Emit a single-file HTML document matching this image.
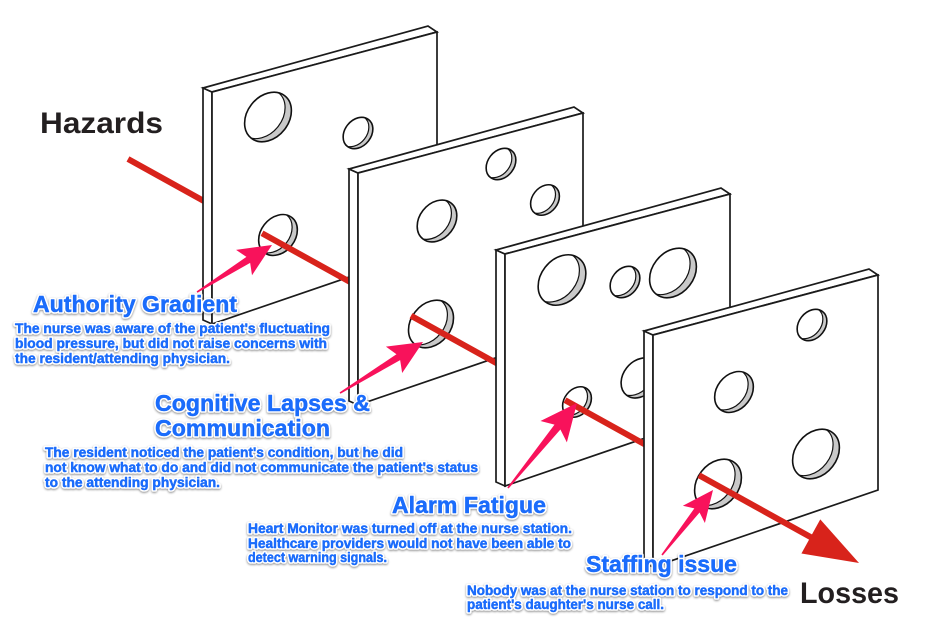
<!DOCTYPE html>
<html>
<head>
<meta charset="utf-8">
<style>
  html,body{margin:0;padding:0;background:#fff;}
  body{width:940px;height:638px;overflow:hidden;}
  svg{display:block;}
  .blk{font-family:"Liberation Sans",Arial,sans-serif;font-weight:bold;fill:#231f20;}
  .sl path{fill:#fff;stroke:#1b1b1b;stroke-width:1.7;stroke-linejoin:miter;}
  .red{stroke:#d8231b;stroke-width:6;fill:none;stroke-linecap:butt;}
  .pink{fill:#f8125b;}
  .halo{font-family:"Liberation Sans",Arial,sans-serif;font-weight:bold;fill:#1b6cfb;stroke:#fff;stroke-width:3.6px;paint-order:stroke;stroke-linejoin:round;filter:drop-shadow(0.5px 1.5px 1px rgba(0,0,0,0.45));}
  .ink{font-family:"Liberation Sans",Arial,sans-serif;font-weight:bold;fill:#1b6cfb;stroke:#1b6cfb;stroke-width:0.45px;stroke-linejoin:round;}
</style>
</head>
<body>
<svg width="940" height="638" viewBox="0 0 940 638" xmlns="http://www.w3.org/2000/svg">
  <defs>
    <clipPath id="hc"><circle cx="0" cy="0" r="1"/></clipPath>
    <g id="hole">
      <circle cx="0" cy="0" r="1" fill="#c9c9c9"/>
      <circle cx="-0.27" cy="-0.2" r="1" fill="#fff" stroke="#111" stroke-width="1.2" vector-effect="non-scaling-stroke" clip-path="url(#hc)"/>
      <circle cx="0" cy="0" r="1" fill="none" stroke="#111" stroke-width="1.6" vector-effect="non-scaling-stroke"/>
    </g>
    <g id="labels">
      <text x="33" y="312" font-size="23" textLength="204" lengthAdjust="spacingAndGlyphs">Authority Gradient</text>
      <text x="15" y="333" font-size="13.5" textLength="315" lengthAdjust="spacingAndGlyphs">The nurse was aware of the patient's fluctuating</text>
      <text x="15" y="348" font-size="13.5" textLength="312" lengthAdjust="spacingAndGlyphs">blood pressure, but did not raise concerns with</text>
      <text x="15" y="363" font-size="13.5" textLength="215" lengthAdjust="spacingAndGlyphs">the resident/attending physician.</text>

      <text x="155" y="411" font-size="23" textLength="215" lengthAdjust="spacingAndGlyphs">Cognitive Lapses &amp;</text>
      <text x="155" y="436" font-size="23" textLength="175" lengthAdjust="spacingAndGlyphs">Communication</text>
      <text x="45" y="457" font-size="13.5" textLength="358" lengthAdjust="spacingAndGlyphs">The resident noticed the patient's condition, but he did</text>
      <text x="45" y="472" font-size="13.5" textLength="433" lengthAdjust="spacingAndGlyphs">not know what to do and did not communicate the patient's status</text>
      <text x="45" y="487" font-size="13.5" textLength="175" lengthAdjust="spacingAndGlyphs">to the attending physician.</text>

      <text x="392" y="513" font-size="23" textLength="154" lengthAdjust="spacingAndGlyphs">Alarm Fatigue</text>
      <text x="248" y="533" font-size="13.5" textLength="324" lengthAdjust="spacingAndGlyphs">Heart Monitor was turned off at the nurse station.</text>
      <text x="248" y="548" font-size="13.5" textLength="323" lengthAdjust="spacingAndGlyphs">Healthcare providers would not have been able to</text>
      <text x="248" y="562" font-size="13.5" textLength="139" lengthAdjust="spacingAndGlyphs">detect warning signals.</text>

      <text x="586" y="572" font-size="23" textLength="151" lengthAdjust="spacingAndGlyphs">Staffing issue</text>
      <text x="467" y="595" font-size="13.5" textLength="321" lengthAdjust="spacingAndGlyphs">Nobody was at the nurse station to respond to the</text>
      <text x="467" y="609" font-size="13.5" textLength="197" lengthAdjust="spacingAndGlyphs">patient's daughter's nurse call.</text>
    </g>
  </defs>
  <rect width="940" height="638" fill="#fff"/>

  <!-- red segment 0 -->
  <line class="red" x1="128" y1="159" x2="216" y2="207.8"/>

  <!-- Slice 1 -->
  <g class="sl" transform="translate(212,92)">
    <path d="M-9,-4 L0,0 L0,232 L-9,228 Z"/>
    <path d="M-9,-4 L216,-66 L225,-60 L0,0 Z"/>
    <path d="M0,0 L225,-60 L225,155 L0,232 Z"/>
  </g>
  <use href="#hole" transform="matrix(23.4,-6.24,0,23.92,268,117)"/>
  <use href="#hole" transform="matrix(14.85,-3.96,0,15.18,358,133)"/>
  <use href="#hole" transform="matrix(19.35,-5.16,0,19.78,278,235)"/>

  <line class="red" x1="262" y1="233.2" x2="356" y2="285.3"/>

  <!-- Slice 2 -->
  <g class="sl" transform="translate(358,173)">
    <path d="M-9,-4 L0,0 L0,232 L-9,228 Z"/>
    <path d="M-9,-4 L216,-66 L225,-60 L0,0 Z"/>
    <path d="M0,0 L225,-60 L225,155 L0,232 Z"/>
  </g>
  <use href="#hole" transform="matrix(14.85,-3.96,0,15.18,501,164)"/>
  <use href="#hole" transform="matrix(14.4,-3.84,0,14.72,545,200)"/>
  <use href="#hole" transform="matrix(19.8,-5.28,0,20.24,437,221)"/>
  <use href="#hole" transform="matrix(22.5,-6,0,23,431,324)"/>

  <line class="red" x1="411" y1="315.8" x2="503" y2="366.8"/>

  <!-- Slice 3 -->
  <g class="sl" transform="translate(505,254)">
    <path d="M-9,-4 L0,0 L0,232 L-9,228 Z"/>
    <path d="M-9,-4 L216,-66 L225,-60 L0,0 Z"/>
    <path d="M0,0 L225,-60 L225,155 L0,232 Z"/>
  </g>
  <use href="#hole" transform="matrix(23.85,-6.36,0,24.38,562,280)"/>
  <use href="#hole" transform="matrix(14.85,-3.96,0,15.18,625,282)"/>
  <use href="#hole" transform="matrix(23.4,-6.24,0,23.92,673,273)"/>
  <use href="#hole" transform="matrix(18.9,-5.04,0,19.32,640,378)"/>
  <use href="#hole" transform="matrix(14.4,-3.84,0,14.72,577,402)"/>

  <line class="red" x1="565" y1="400.1" x2="651" y2="447.8"/>

  <!-- Slice 4 -->
  <g class="sl" transform="translate(653,335)">
    <path d="M-9,-4 L0,0 L0,232 L-9,228 Z"/>
    <path d="M-9,-4 L216,-66 L225,-60 L0,0 Z"/>
    <path d="M0,0 L225,-60 L225,155 L0,232 Z"/>
  </g>
  <use href="#hole" transform="matrix(14.85,-3.96,0,15.18,812,325)"/>
  <use href="#hole" transform="matrix(19.35,-5.16,0,19.78,734,392)"/>
  <use href="#hole" transform="matrix(23.4,-6.24,0,23.92,816,454)"/>
  <use href="#hole" transform="matrix(23.4,-6.24,0,23.92,718,484)"/>

  <line class="red" x1="699" y1="475.3" x2="815" y2="539.5"/>
  <path d="M0,0 L-55,-19.5 L-55,19.5 Z" fill="#d8231b" transform="translate(859,563) rotate(28.9)"/>

  <!-- Pink callout arrows -->
  <path class="pink" d="M0,0 L-33,-15 L-28,-3.5 L-88.5,-0.8 L-88.5,0.8 L-28,3.5 L-33,15 Z" transform="translate(272,245) rotate(-32.1)"/>
  <path class="pink" d="M0,0 L-34,-15.5 L-29,-3.5 L-97.4,-0.8 L-97.4,0.8 L-29,3.5 L-34,15.5 Z" transform="translate(423,342) rotate(-31.6)"/>
  <path class="pink" d="M0,0 L-37,-17 L-31,-3.8 L-109.5,-0.8 L-109.5,0.8 L-31,3.8 L-37,17 Z" transform="translate(577,403) rotate(-50.9)"/>
  <path class="pink" d="M0,0 L-31,-14 L-26,-3.3 L-82.6,-0.8 L-82.6,0.8 L-26,3.3 L-31,14 Z" transform="translate(713,490) rotate(-51.9)"/>

  <!-- Black labels -->
  <text class="blk" x="40" y="133" font-size="30" textLength="123" lengthAdjust="spacingAndGlyphs">Hazards</text>
  <text class="blk" x="800" y="603" font-size="30" textLength="99" lengthAdjust="spacingAndGlyphs">Losses</text>

  <!-- Blue labels: halo layer + ink layer -->
  <use href="#labels" class="halo"/>
  <use href="#labels" class="ink"/>
</svg>
</body>
</html>
